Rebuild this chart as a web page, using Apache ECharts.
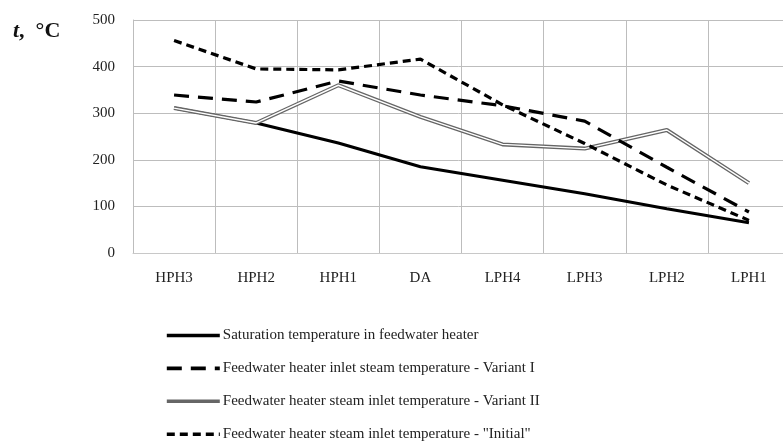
<!DOCTYPE html>
<html>
<head>
<meta charset="utf-8">
<script src="https://cdn.jsdelivr.net/npm/echarts@6/dist/echarts.min.js"></script>
<style>html,body{margin:0;padding:0;background:#fff}#c{width:783px;height:445px}</style>
</head>
<body>
<div id="c"></div>
<script>
const categories = ['HPH3', 'HPH2', 'HPH1', 'DA', 'LPH4', 'LPH3', 'LPH2', 'LPH1'];
const saturation = [311, 279, 236, 185, 156, 127, 95, 65];
const variantI = [339, 324, 369, 339, 316, 283, 184, 88];
const variantII = [311, 279, 360, 292, 233, 224, 264, 150];
const initial = [456, 395, 393, 416, 318, 235, 146, 70];
const yTicks = [0, 100, 200, 300, 400, 500];
const names = [
  'Saturation temperature in feedwater heater',
  'Feedwater heater inlet steam temperature - Variant I',
  'Feedwater heater steam inlet temperature - Variant II',
  'Feedwater heater steam inlet temperature - "Initial"'
];

const font = 'Liberation Serif, Times New Roman, serif';
const chart = echarts.init(document.getElementById('c'), null, {renderer: 'canvas'});
chart.setOption({
  animation: false,
  title: {
    left: 13, top: 20, padding: 0,
    text: '{i|t}{b|,  °C}',
    textStyle: {
      rich: {
        i: {fontFamily: font, fontSize: 22, fontStyle: 'italic', fontWeight: 'bold', color: '#111'},
        b: {fontFamily: font, fontSize: 22, fontWeight: 'bold', color: '#111'}
      }
    }
  },
  grid: {left: 133, top: 20, width: 657, height: 233, containLabel: false, outerBoundsMode: 'none'},
  legend: {
    orient: 'vertical',
    left: 165, top: 328, height: 117, padding: 0,
    itemWidth: 53, itemHeight: 14, itemGap: 17.9,
    data: names,
    itemStyle: {color: 'transparent', borderColor: 'transparent', borderWidth: 0},
    lineStyle: {width: 3.6},
    textStyle: {fontFamily: font, fontSize: 15, color: '#222', padding: [0, 0, 0, -2]},
    selectedMode: false
  },
  xAxis: {
    type: 'category',
    data: categories,
    boundaryGap: true,
    axisLine: {show: true, lineStyle: {color: '#c8c8c8', width: 1}},
    axisTick: {show: false},
    splitLine: {show: true, lineStyle: {color: '#bdbdbd', width: 1}},
    axisLabel: {fontFamily: font, fontSize: 15, color: '#222', margin: 18}
  },
  yAxis: {
    type: 'value',
    min: yTicks[0], max: yTicks[yTicks.length - 1], interval: 100,
    axisLine: {show: true, lineStyle: {color: '#bdbdbd', width: 1}},
    axisTick: {show: false},
    splitLine: {show: true, lineStyle: {color: '#bdbdbd', width: 1}},
    axisLabel: {fontFamily: font, fontSize: 15, color: '#222', margin: 18}
  },
  series: [
    {
      name: names[0], type: 'line', data: saturation, symbol: 'none',
      lineStyle: {color: '#000', width: 3}, itemStyle: {color: '#000'}
    },
    {
      name: names[2], type: 'line', data: variantII, symbol: 'none',
      lineStyle: {color: '#666', width: 4}, itemStyle: {color: '#666'}
    },
    {
      name: 'core', type: 'line', data: variantII, symbol: 'none',
      lineStyle: {color: '#ffffff', width: 1.4}, itemStyle: {color: '#fff'}
    },
    {
      name: names[1], type: 'line', data: variantI, symbol: 'none',
      lineStyle: {color: '#000', width: 3.2, type: [15, 9]}, itemStyle: {color: '#000'}
    },
    {
      name: names[3], type: 'line', data: initial, symbol: 'none',
      lineStyle: {color: '#000', width: 3.2, type: [8, 5]}, itemStyle: {color: '#000'}
    }
  ]
});
</script>
</body>
</html>
